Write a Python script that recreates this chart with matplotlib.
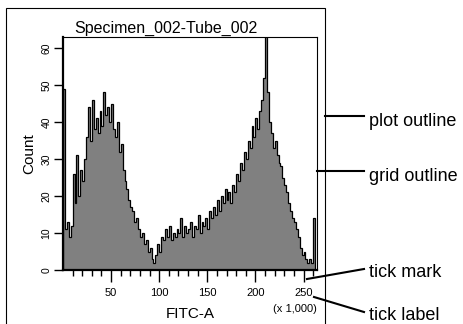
import numpy as np
import matplotlib
matplotlib.use("Agg")
import matplotlib.pyplot as plt
from matplotlib.patches import Rectangle
from matplotlib.lines import Line2D

plt.rcParams["font.family"] = ["Liberation Sans", "DejaVu Sans"]

# histogram counts, one per 2,000-wide FITC-A bin starting at 0
counts = [49, 11, 13, 9, 12, 26, 18, 31, 20, 27,
          24, 30, 36, 44, 35, 46, 38, 41, 37, 43,
          39, 48, 42, 44, 40, 45, 38, 36, 40, 32,
          34, 27, 24, 22, 19, 17, 16, 13, 14, 11,
          9, 10, 7, 8, 5, 6, 3, 2, 4, 7,
          5, 9, 8, 11, 9, 12, 8, 10, 9, 11,
          10, 14, 9, 12, 10, 11, 13, 9, 12, 11,
          15, 10, 13, 12, 14, 11, 16, 14, 17, 15,
          19, 16, 20, 18, 22, 19, 21, 18, 23, 21,
          26, 24, 29, 27, 32, 30, 35, 33, 39, 36,
          41, 38, 43, 46, 52, 66, 48, 40, 37, 33,
          35, 31, 29, 28, 25, 23, 21, 18, 16, 14,
          13, 11, 9, 6, 4, 5, 3, 2, 3, 2,
          14]
bin_width = 2
x_ticks = [50, 100, 150, 200, 250]
y_ticks = [0, 10, 20, 30, 40, 50, 60]
title = "Specimen_002-Tube_002"
x_label = "FITC-A"
x_scale = "(x 1,000)"
y_label = "Count"
callouts = ["plot outline", "grid outline", "tick mark", "tick label"]

W, H = 464, 324


def fx(px):
    return px / W


def fy(py):
    return 1 - py / H


fig = plt.figure(figsize=(W / 100, H / 100), dpi=100)
ax = fig.add_axes([fx(63), fy(270), 254 / W, 233 / H])

edges = np.arange(len(counts) + 1) * bin_width
ax.stairs(counts, edges, fill=True, color="#808080", lw=0)
ax.stairs(counts, edges, color="black", lw=0.9)
ax.set_xlim(0, 264)
ax.set_ylim(0, 63)

ax.set_xticks(x_ticks)
ax.set_xticks(np.arange(10, 261, 10), minor=True)
ax.set_yticks(y_ticks)
ax.tick_params(axis="x", which="major", length=8.6, width=1, pad=4, labelsize=8)
ax.tick_params(axis="x", which="minor", length=4.3, width=1)
ax.tick_params(axis="y", length=6.8, width=1, pad=1.5, labelsize=7.5, labelrotation=90)
for lab in ax.get_yticklabels():
    lab.set_va("center")

ax.spines["left"].set_linewidth(1.6)
ax.spines["bottom"].set_linewidth(1.6)
ax.spines["top"].set_linewidth(0.8)
ax.spines["right"].set_linewidth(0.8)

ax.text(0.405, 1 + 4 / 233, title, transform=ax.transAxes,
        ha="center", va="baseline", fontsize=11.5)
ax.set_xlabel(x_label, fontsize=11, va="baseline")
ax.xaxis.set_label_coords(0.5, (270 - 318) / 233)
ax.set_ylabel(y_label, fontsize=11, va="center")
ax.yaxis.set_label_coords((29 - 63) / 254, 0.5)
ax.text(1, (270 - 312) / 233, x_scale, transform=ax.transAxes,
        ha="right", va="baseline", fontsize=8)

# outer plot outline, runs off the bottom of the image
fig.add_artist(Rectangle((fx(6), -0.1), fx(325) - fx(6), fy(8) + 0.1,
                         fill=False, lw=0.8, ec="black", transform=fig.transFigure))

# callout leaders: (start x, start y, end x, end y), text baseline
leaders = [(325, 116, 364, 116, 126),
           (317, 171, 364, 171, 181),
           (307, 279, 364, 269, 277),
           (314, 297, 364, 312, 320)]
for name, (x0, y0, x1, y1, base) in zip(callouts, leaders):
    fig.add_artist(Line2D([fx(x0), fx(x1)], [fy(y0), fy(y1)], lw=1.5,
                          color="black", transform=fig.transFigure))
    fig.text(fx(369), fy(base), name, fontsize=13, va="baseline", ha="left")

fig.savefig("out.png", dpi=100)
